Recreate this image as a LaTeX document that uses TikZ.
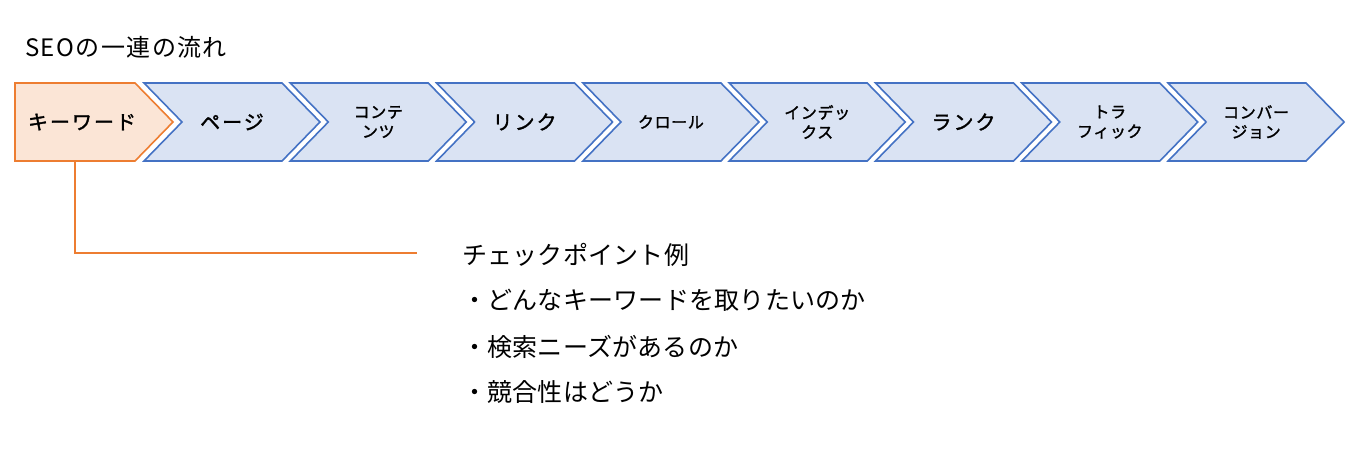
\documentclass[tikz,border=0pt]{standalone}
\usepackage{fontspec}
\setmainfont{Noto Sans CJK JP}
\begin{document}
\begin{tikzpicture}[x=1pt,y=-1pt]
\definecolor{orstroke}{HTML}{ED7D31}
\definecolor{orfill}{HTML}{FBE5D6}
\definecolor{blstroke}{HTML}{4472C4}
\definecolor{blfill}{HTML}{DAE3F3}
\tikzset{
  bluebox/.style={draw=blstroke,fill=blfill,line width=1.6pt,line join=miter},
  orbox/.style={draw=orstroke,fill=orfill,line width=1.6pt,line join=miter},
  chev/.pic={\path[bluebox] (0,0) -- (138,0) -- (176,39) -- (138,78) -- (0,78) -- (38,39) -- cycle;},
  biglabel/.style={inner sep=0pt,align=center,font=\addfontfeatures{FakeBold=1.6,LetterSpace=10}\fontsize{20}{24}\selectfont},
  smalllabel/.style={inner sep=0pt,align=center,font=\addfontfeatures{FakeBold=1.6,LetterSpace=4}\fontsize{16}{19.5}\selectfont},
  plain/.style={inner sep=0pt,anchor=west,font=\addfontfeatures{LetterSpace=1}\fontsize{25}{28}\selectfont},
  link/.style={draw=orstroke,line width=1.6pt}
}
\useasboundingbox[fill=white] (0,0) rectangle (1358,460);
\node[inner sep=0pt,anchor=west,font=\addfontfeatures{LetterSpace=6}\fontsize{24}{26}\selectfont] (title) at (25,47) {SEOの一連の流れ};
% keyword pentagon
\path[orbox] (15,83) -- (135,83) -- (173,122) -- (135,161) -- (15,161) -- cycle;
\foreach \i in {0,...,7} {
  \pic at ({144+\i*146.3},83) {chev};
}
\node[biglabel] (k1) at (82,122) {キーワード};
\node[biglabel] (k2) at ({144+0*146.3+88},122) {ページ};
\node[smalllabel] (k3) at ({144+1*146.3+88},122) {コンテ\\ンツ};
\node[biglabel] (k4) at ({144+2*146.3+88},122) {リンク};
\node[smalllabel] (k5) at ({144+3*146.3+88},122) {クロール};
\node[smalllabel] (k6) at ({144+4*146.3+88},122) {インデッ\\クス};
\node[biglabel] (k7) at ({144+5*146.3+88},122) {ランク};
\node[smalllabel] (k8) at ({144+6*146.3+88},122) {トラ\\フィック};
\node[smalllabel] (k9) at ({144+7*146.3+88},122) {コンバー\\ジョン};
% checkpoint text
\node[plain] (c0) at (462,255) {チェックポイント例};
\node[plain] (c1) at (462,300) {・どんなキーワードを取りたいのか};
\node[plain] (c2) at (462,347) {・検索ニーズがあるのか};
\node[plain] (c3) at (462,392) {・競合性はどうか};
\coordinate (kb) at (75,161);
\coordinate (lend) at (417,253);
\draw[link] (kb) |- (lend);
\end{tikzpicture}
\end{document}
